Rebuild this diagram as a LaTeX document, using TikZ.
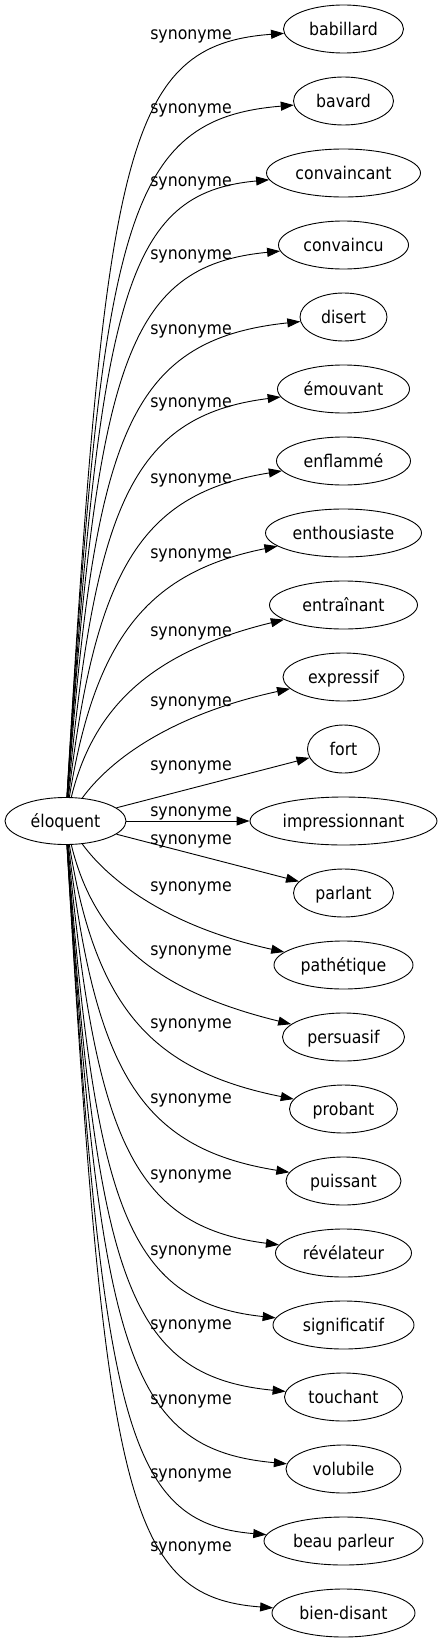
\documentclass[tikz,border=0pt]{standalone}
\usepackage{fontspec}
\setmainfont{DejaVu Sans}[FakeStretch=0.9]
\usetikzlibrary{shapes.geometric,arrows.meta}
\begin{document}
\begin{tikzpicture}[x=1pt,y=-1pt,
  txt/.style={font=\fontsize{17.5pt}{20pt}\selectfont, text height=13.5pt, text depth=1pt},
  word/.style={txt, draw, ellipse, line width=0.9pt, inner sep=0pt, minimum height=48pt},
  lab/.style={txt, inner sep=0pt},
  edge/.style={line width=0.9pt, -{Triangle[length=13pt,width=9pt]}}]
\useasboundingbox (0,0) rectangle (442,1643);
\node[word, minimum width=121pt, minimum height=47pt] (elo) at (65.5,821) {éloquent};
\node[word, minimum width=120pt] (babillard) at (343.5,29) {babillard};
\node[word, minimum width=100pt] (bavard) at (343.5,101) {bavard};
\node[word, minimum width=154pt] (convaincant) at (343.5,173) {convaincant};
\node[word, minimum width=130pt] (convaincu) at (343.5,245) {convaincu};
\node[word, minimum width=87pt] (disert) at (343.5,317) {disert};
\node[word, minimum width=132pt] (emouvant) at (343.5,389) {émouvant};
\node[word, minimum width=134pt] (enflamme) at (343.5,461) {enflammé};
\node[word, minimum width=156pt] (enthousiaste) at (343.5,533) {enthousiaste};
\node[word, minimum width=148pt] (entrainant) at (343.5,605) {entraînant};
\node[word, minimum width=121pt] (expressif) at (343.5,677) {expressif};
\node[word, minimum width=72pt] (fort) at (343.5,749) {fort};
\node[word, minimum width=187pt] (impressionnant) at (343.5,821) {impressionnant};
\node[word, minimum width=100pt] (parlant) at (343.5,893) {parlant};
\node[word, minimum width=139pt] (pathetique) at (343.5,965) {pathétique};
\node[word, minimum width=122pt] (persuasif) at (343.5,1037) {persuasif};
\node[word, minimum width=108pt] (probant) at (343.5,1109) {probant};
\node[word, minimum width=115pt] (puissant) at (343.5,1181) {puissant};
\node[word, minimum width=136pt] (revelateur) at (343.5,1253) {révélateur};
\node[word, minimum width=141pt] (significatif) at (343.5,1325) {significatif};
\node[word, minimum width=118pt] (touchant) at (343.5,1397) {touchant};
\node[word, minimum width=115pt] (volubile) at (343.5,1469) {volubile};
\node[word, minimum width=159pt] (beauparleur) at (343.5,1541) {beau parleur};
\node[word, minimum width=143pt] (biendisant) at (343.5,1613) {bien-disant};
% labels
\node[lab] (l0) at (191,33) {synonyme};
\node[lab] (l1) at (191,107) {synonyme};
\node[lab] (l2) at (191,180) {synonyme};
\node[lab] (l3) at (191,253) {synonyme};
\node[lab] (l4) at (191,328) {synonyme};
\node[lab] (l5) at (191,401) {synonyme};
\node[lab] (l6) at (191,477) {synonyme};
\node[lab] (l7) at (191,552) {synonyme};
\node[lab] (l8) at (191,630) {synonyme};
\node[lab] (l9) at (191,700) {synonyme};
\node[lab] (l10) at (191,764) {synonyme};
\node[lab] (l11) at (191,810) {synonyme};
\node[lab] (l12) at (191,838) {synonyme};
\node[lab] (l13) at (191,885) {synonyme};
\node[lab] (l14) at (191,949) {synonyme};
\node[lab] (l15) at (191,1022) {synonyme};
\node[lab] (l16) at (191,1097) {synonyme};
\node[lab] (l17) at (191,1173) {synonyme};
\node[lab] (l18) at (191,1249) {synonyme};
\node[lab] (l19) at (191,1323) {synonyme};
\node[lab] (l20) at (191,1398) {synonyme};
\node[lab] (l21) at (191,1472) {synonyme};
\node[lab] (l22) at (191,1545) {synonyme};
% edges
\draw[edge] (elo) .. controls (105,150) and (125,45) .. (babillard);
\draw[edge] (elo) .. controls (102,222) and (125,119) .. (bavard);
\draw[edge] (elo) .. controls (100,295) and (125,193) .. (convaincant);
\draw[edge] (elo) .. controls (97,367) and (125,266) .. (convaincu);
\draw[edge] (elo) .. controls (95,440) and (125,340) .. (disert);
\draw[edge] (elo) .. controls (95,509) and (130,416) .. (emouvant);
\draw[edge] (elo) .. controls (95,574) and (138,494) .. (enflamme);
\draw[edge] (elo) .. controls (95,638) and (148,572) .. (enthousiaste);
\draw[edge] (elo) .. controls (95,700) and (160,650) .. (entrainant);
\draw[edge] (elo) .. controls (110,760) and (170,715) .. (expressif);
\draw[edge] (elo) -- (fort);
\draw[edge] (elo) -- (impressionnant);
\draw[edge] (elo) -- (parlant);
\draw[edge] (elo) .. controls (110,882) and (170,927) .. (pathetique);
\draw[edge] (elo) .. controls (95,942) and (160,992) .. (persuasif);
\draw[edge] (elo) .. controls (95,1004) and (148,1070) .. (probant);
\draw[edge] (elo) .. controls (95,1068) and (138,1148) .. (puissant);
\draw[edge] (elo) .. controls (95,1133) and (130,1226) .. (revelateur);
\draw[edge] (elo) .. controls (95,1202) and (125,1302) .. (significatif);
\draw[edge] (elo) .. controls (97,1275) and (125,1376) .. (touchant);
\draw[edge] (elo) .. controls (100,1347) and (125,1449) .. (volubile);
\draw[edge] (elo) .. controls (102,1420) and (125,1523) .. (beauparleur);
\draw[edge] (elo) .. controls (105,1492) and (125,1597) .. (biendisant);
\end{tikzpicture}
\end{document}
